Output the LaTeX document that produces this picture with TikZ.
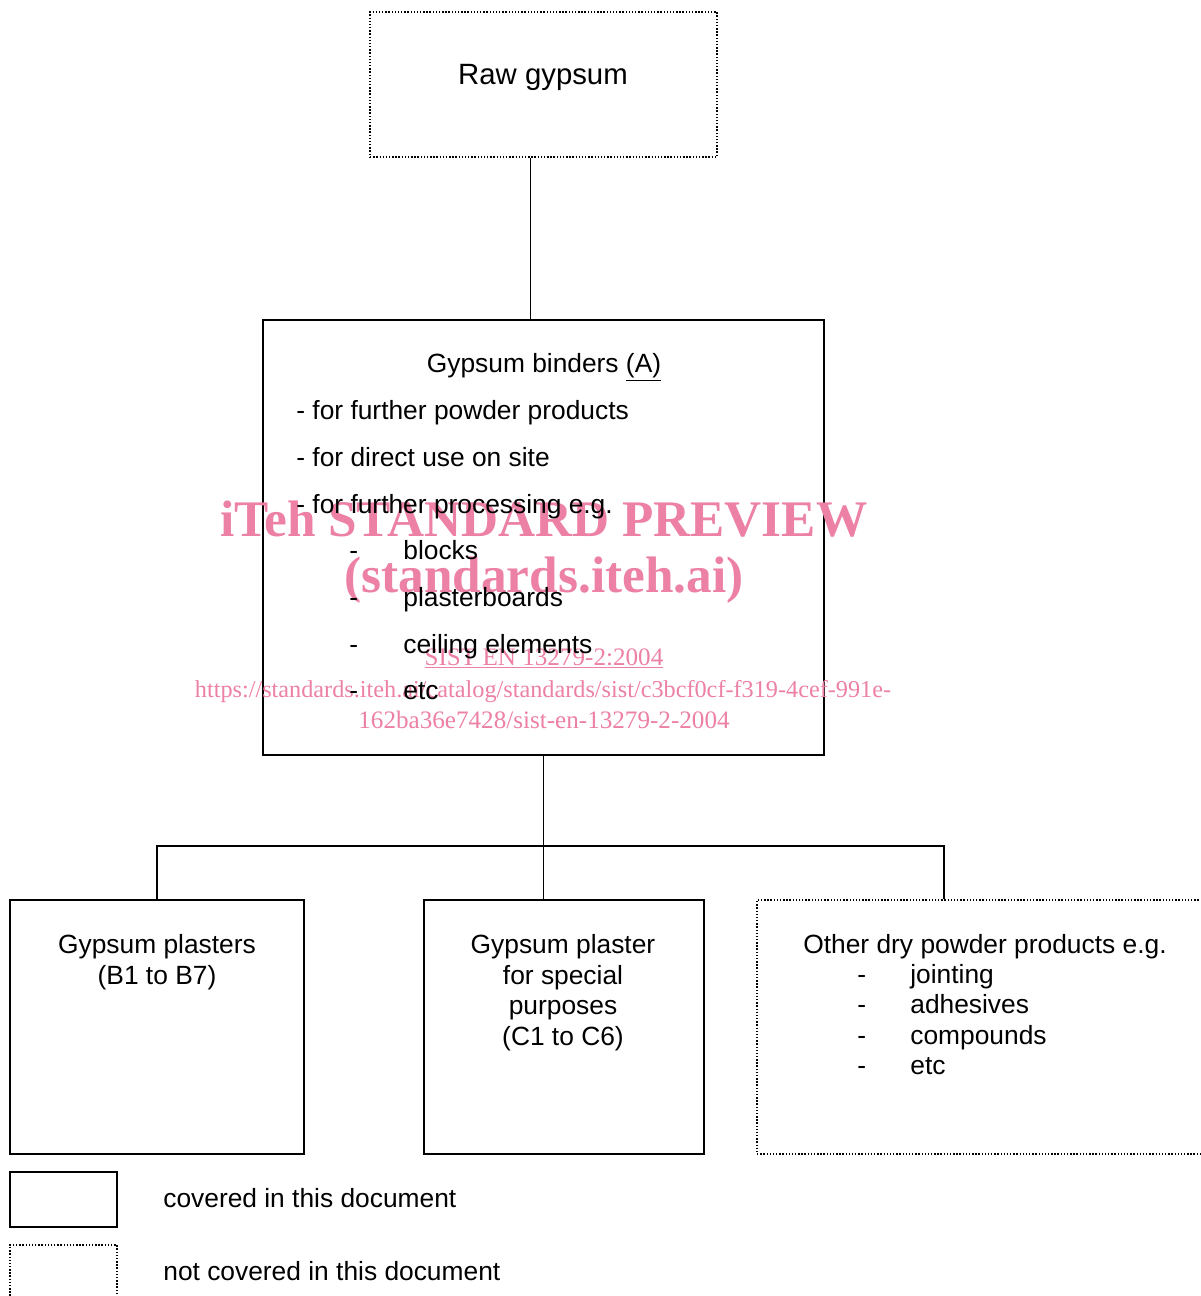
\documentclass[tikz,border=0pt]{standalone}
\usepackage{fontspec}
\setmainfont{Liberation Sans}
\newfontfamily\wmfont{Liberation Serif}
\definecolor{wmpink}{RGB}{236,128,165}

\begin{document}
\begin{tikzpicture}[x=0.02cm,y=-0.02cm,
  covered/.style={draw,line width=1.1pt,inner sep=0pt},
  notcovered/.style={draw,line width=0.8pt,densely dotted,inner sep=0pt},
  link/.style={line width=1.1pt},
  txt/.style={font=\fontsize{15}{17.4}\selectfont,inner sep=0pt},
  wm/.style={text=wmpink,inner sep=0pt}]

\useasboundingbox (0,0) rectangle (1201,1296) ;

% boxes
\node[notcovered,minimum width=6.94cm,minimum height=2.9cm] (raw) at (543.5,84.5) {} ;
\node[covered,minimum width=11.22cm,minimum height=8.7cm] (binders) at (543.5,537.5) {} ;
\node[covered,minimum width=5.88cm,minimum height=5.08cm] (plasterB) at (157,1027) {} ;
\node[covered,minimum width=5.6cm,minimum height=5.08cm] (special) at (564,1027) {} ;
\node[notcovered,minimum width=9.28cm,minimum height=5.08cm] (other) at (989,1027) {} ;

% connectors
\coordinate (fork) at (543.5,846) ;
\draw[link] ([xshift=-0.26cm]raw.south) -- ([xshift=-0.26cm]raw.south |- binders.north) ;
\draw[link] (binders.south) -- (fork) -- (fork |- special.north) ;
\draw[link] (plasterB.north) |- (fork) -| ([xshift=-0.9cm]other.north) ;

% watermark
\node[wm,font=\wmfont\bfseries\fontsize{29.2}{30}\selectfont,anchor=base] (wmtitle) at (544,536) {iTeh STANDARD PREVIEW} ;
\node[wm,font=\wmfont\bfseries\fontsize{29.2}{30}\selectfont,anchor=base] (wmsite) at (544,592) {(standards.iteh.ai)} ;
\node[wm,font=\wmfont\fontsize{14.3}{16}\selectfont,anchor=base] (wmcode) at (544,665) {\underline{SIST EN 13279-2:2004}} ;
\node[wm,font=\wmfont\fontsize{13.8}{16}\selectfont,anchor=base] (wmurl) at (543,697) {https://standards.iteh.ai/catalog/standards/sist/c3bcf0cf-f319-4cef-991e-} ;
\node[wm,font=\wmfont\fontsize{14.3}{16}\selectfont,anchor=base] (wmurlb) at (544,728) {162ba36e7428/sist-en-13279-2-2004} ;

% raw gypsum
\node[txt,font=\fontsize{16.7}{19}\selectfont,anchor=base] (rawtxt) at (543,84) {Raw gypsum} ;

% gypsum binders
\node[txt,anchor=base] (bindtitle) at (544,372) {Gypsum binders \underline{(A)}} ;
\node[txt,anchor=base west] (bindpowder) at (296,419) {- for further powder products} ;
\node[txt,anchor=base west] (binddirect) at (296,466) {- for direct use on site} ;
\node[txt,anchor=base west] (bindproc) at (296,513) {- for further processing e.g.} ;
\node[txt,anchor=base west] (dashblocks) at (349,559) {-} ;
\node[txt,anchor=base west] (blocks) at (403,559) {blocks} ;
\node[txt,anchor=base west] (dashboards) at (349,606) {-} ;
\node[txt,anchor=base west] (boards) at (403,606) {plasterboards} ;
\node[txt,anchor=base west] (dashceiling) at (349,653) {-} ;
\node[txt,anchor=base west] (ceiling) at (403,653) {ceiling elements} ;
\node[txt,anchor=base west] (dashetc) at (349,699) {-} ;
\node[txt,anchor=base west] (bindetc) at (403,699) {etc} ;

% gypsum plasters
\node[txt,anchor=base] (plasterBa) at (157,953) {Gypsum plasters} ;
\node[txt,anchor=base] (plasterBb) at (157,984) {(B1 to B7)} ;

% special purposes
\node[txt,anchor=base] (specialA) at (563,953) {Gypsum plaster} ;
\node[txt,anchor=base] (specialB) at (563,984) {for special} ;
\node[txt,anchor=base] (specialC) at (563,1014) {purposes} ;
\node[txt,anchor=base] (specialD) at (563,1045) {(C1 to C6)} ;

% other products
\node[txt,anchor=base west] (othertitle) at (803,953) {Other dry powder products e.g.} ;
\node[txt,anchor=base west] (dashjoint) at (857,983) {-} ;
\node[txt,anchor=base west] (jointing) at (910,983) {jointing} ;
\node[txt,anchor=base west] (dashadh) at (857,1013) {-} ;
\node[txt,anchor=base west] (adhesives) at (910,1013) {adhesives} ;
\node[txt,anchor=base west] (dashcomp) at (857,1044) {-} ;
\node[txt,anchor=base west] (compounds) at (910,1044) {compounds} ;
\node[txt,anchor=base west] (dashoetc) at (857,1074) {-} ;
\node[txt,anchor=base west] (otheretc) at (910,1074) {etc} ;

% legend
\node[covered,minimum width=2.14cm,minimum height=1.1cm] (keyin) at (63.5,1199.5) {} ;
\node[notcovered,minimum width=2.14cm,minimum height=1.5cm] (keyout) at (63.5,1282.5) {} ;
\node[txt,anchor=base west] (keyintxt) at (163,1207) {covered in this document} ;
\node[txt,anchor=base west] (keyouttxt) at (163,1280) {not covered in this document} ;

\end{tikzpicture}
\end{document}
